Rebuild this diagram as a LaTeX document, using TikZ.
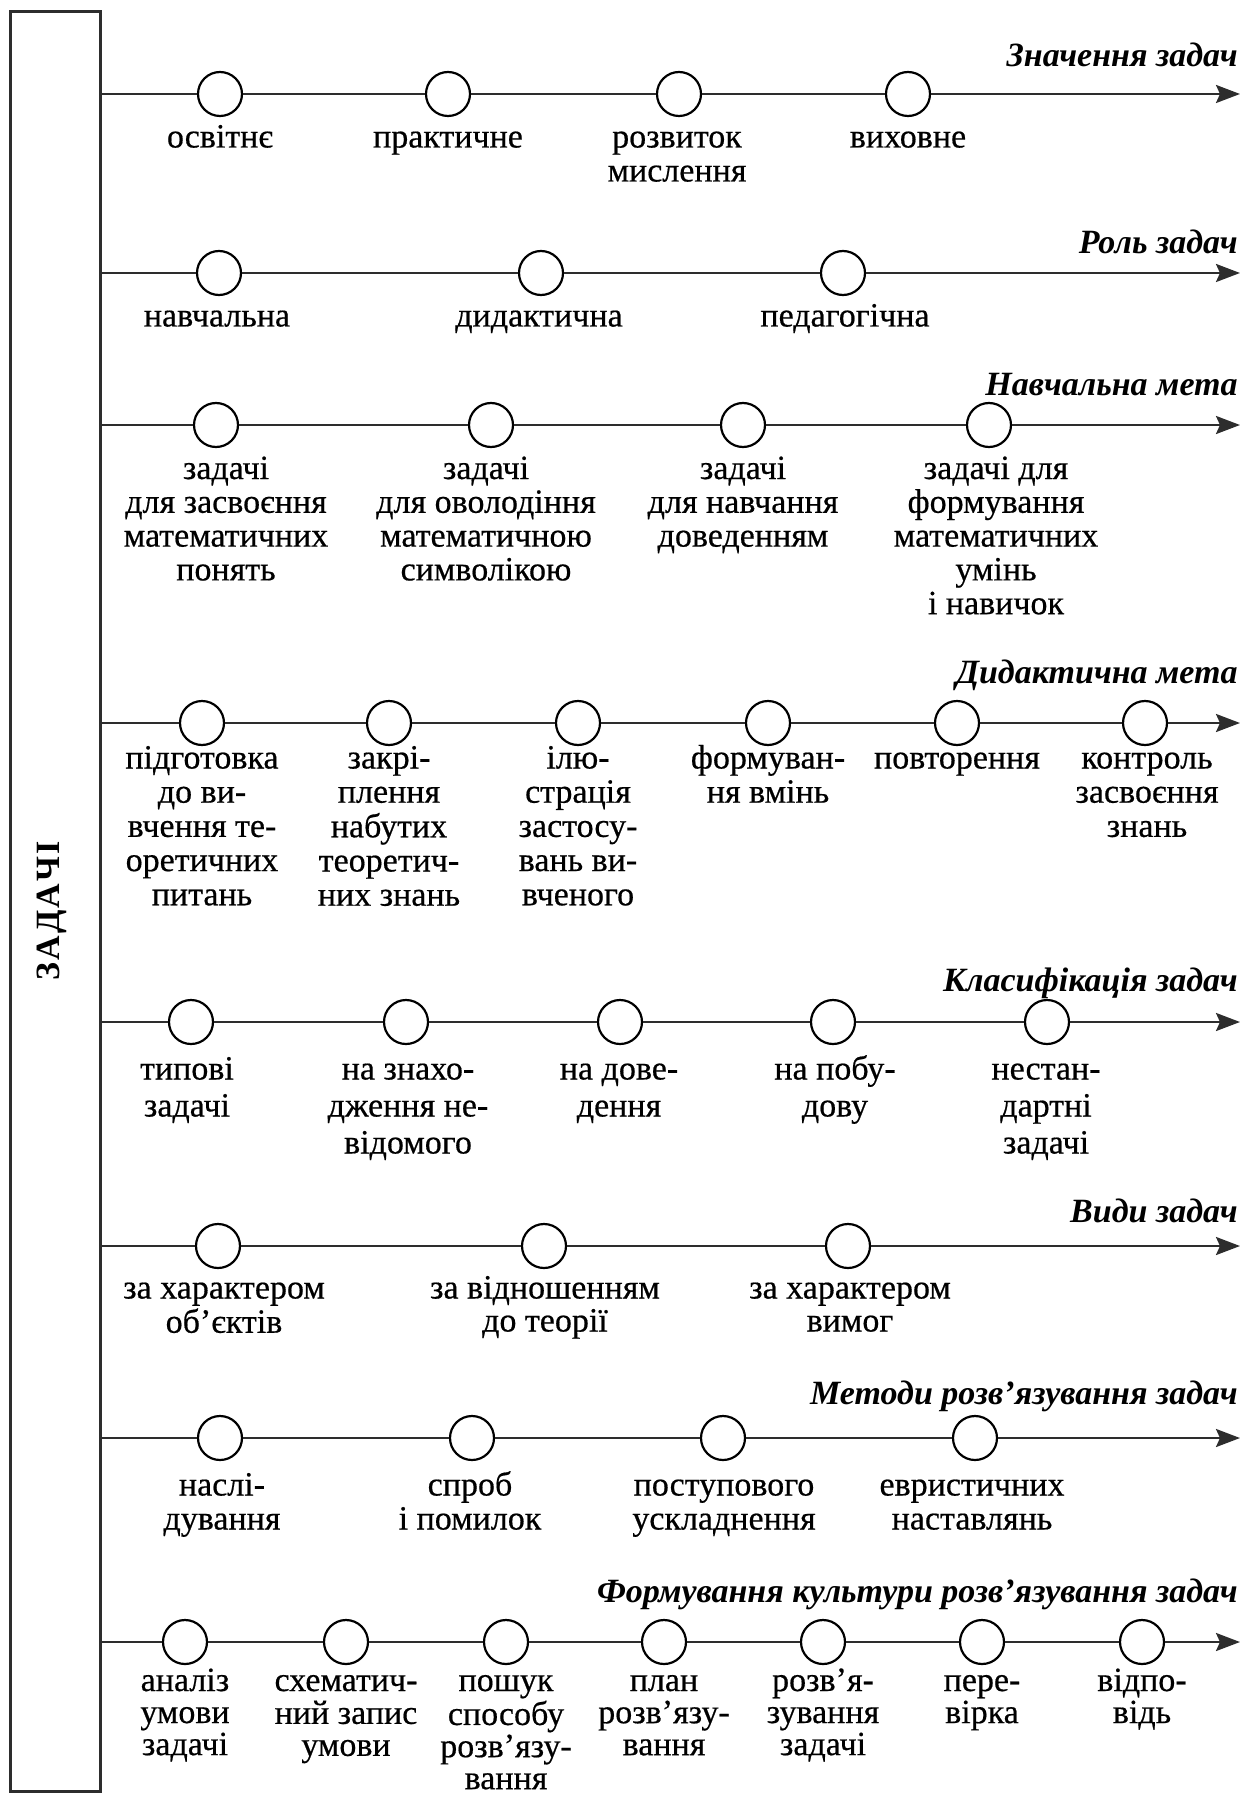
\documentclass[tikz,border=0pt]{standalone}
\usepackage{fontspec}
\setmainfont{Liberation Serif}
\newfontfamily\labfont{Liberation Serif}[FakeBold=0.5]
\usetikzlibrary{arrows.meta}
\definecolor{linecol}{RGB}{45,45,45}
\newcommand\labtext[1]{\begin{tabular}[t]{@{}c@{}}#1\end{tabular}}
\tikzset{
  dot/.style={circle, draw=black, line width=1.1pt, fill=white, minimum size=22pt, inner sep=0pt},
  axis/.style={draw=linecol, line width=1.3pt, -{Stealth[length=12pt,width=9pt,inset=2pt]}},
  lbl/.style={anchor=base, inner sep=0pt, font=\labfont\fontsize{17}{#1}\selectfont},
  lbl/.default=17,
  head/.style={anchor=base east, inner sep=0pt, font=\fontsize{17}{19}\selectfont\bfseries\itshape},
  frame/.style={draw=linecol, line width=1.4pt, anchor=north west, minimum width=45pt, minimum height=890pt, inner sep=0pt}
}
\begin{document}
\begin{tikzpicture}[x=0.5pt,y=-0.5pt]
\useasboundingbox (0,0) rectangle (1243,1797);
\node[frame] (box) at (9,10) {};
\node[rotate=90, inner sep=0pt, font=\fontsize{17}{20}\selectfont\bfseries] (title) at (52,911) {З\kern1pt А\kern1pt Д\kern1pt А\kern1pt Ч\kern1pt І};

% ---------- Row 1 ----------
\coordinate (s1) at (99,94); \coordinate (e1) at (1240,94);
\node[dot] (a1) at (220,94) {};
\node[dot] (a2) at (448,94) {};
\node[dot] (a3) at (679,94) {};
\node[dot] (a4) at (908,94) {};
\draw[axis] (s1) -- (a1) -- (a2) -- (a3) -- (a4) -- (e1);
\node[head] (h1) at (1238,66.5) {Значення задач};
\node[lbl] (la1) at (220,147.5) {\labtext{освітнє}};
\node[lbl] (la2) at (448,147.5) {\labtext{практичне}};
\node[lbl] (la3) at (677,147.5) {\labtext{розвиток\\мислення}};
\node[lbl] (la4) at (908,147.5) {\labtext{виховне}};

% ---------- Row 2 ----------
\coordinate (s2) at (99,273); \coordinate (e2) at (1240,273);
\node[dot] (b1) at (219,273) {};
\node[dot] (b2) at (541,273) {};
\node[dot] (b3) at (843,273) {};
\draw[axis] (s2) -- (b1) -- (b2) -- (b3) -- (e2);
\node[head] (h2) at (1238,254) {Роль задач};
\node[lbl] (lb1) at (217,326.5) {\labtext{навчальна}};
\node[lbl] (lb2) at (539,326.5) {\labtext{дидактична}};
\node[lbl] (lb3) at (845,326.5) {\labtext{педагогічна}};

% ---------- Row 3 ----------
\coordinate (s3) at (99,425); \coordinate (e3) at (1240,425);
\node[dot] (c1) at (216,425) {};
\node[dot] (c2) at (491,425) {};
\node[dot] (c3) at (743,425) {};
\node[dot] (c4) at (989,425) {};
\draw[axis] (s3) -- (c1) -- (c2) -- (c3) -- (c4) -- (e3);
\node[head] (h3) at (1238,395.5) {Навчальна мета};
\node[lbl=16.9] (lc1) at (226,479) {\labtext{задачі\\для засвоєння\\математичних\\понять}};
\node[lbl=16.9] (lc2) at (486,479) {\labtext{задачі\\для оволодіння\\математичною\\символікою}};
\node[lbl=16.9] (lc3) at (743,479) {\labtext{задачі\\для навчання\\доведенням}};
\node[lbl=16.9] (lc4) at (996,479) {\labtext{задачі для\\формування\\математичних\\умінь\\і навичок}};

% ---------- Row 4 ----------
\coordinate (s4) at (99,723); \coordinate (e4) at (1240,723);
\node[dot] (d1) at (202,723) {};
\node[dot] (d2) at (389,723) {};
\node[dot] (d3) at (578,723) {};
\node[dot] (d4) at (768,723) {};
\node[dot] (d5) at (957,723) {};
\node[dot] (d6) at (1145,723) {};
\draw[axis] (s4) -- (d1) -- (d2) -- (d3) -- (d4) -- (d5) -- (d6) -- (e4);
\node[head] (h4) at (1238,683.5) {Дидактична мета};
\node[lbl=17.1] (ld1) at (202,768.5) {\labtext{підготовка\\до ви-\\вчення те-\\оретичних\\питань}};
\node[lbl=17.1] (ld2) at (389,768.5) {\labtext{закрі-\\плення\\набутих\\теоретич-\\них знань}};
\node[lbl=17.1] (ld3) at (578,768.5) {\labtext{ілю-\\страція\\застосу-\\вань ви-\\вченого}};
\node[lbl=17.1] (ld4) at (768,768.5) {\labtext{формуван-\\ня вмінь}};
\node[lbl=17.1] (ld5) at (957,768.5) {\labtext{повторення}};
\node[lbl=17.1] (ld6) at (1147,768.5) {\labtext{контроль\\засвоєння\\знань}};

% ---------- Row 5 ----------
\coordinate (s5) at (99,1022); \coordinate (e5) at (1240,1022);
\node[dot] (f1) at (191,1022) {};
\node[dot] (f2) at (406,1022) {};
\node[dot] (f3) at (620,1022) {};
\node[dot] (f4) at (833,1022) {};
\node[dot] (f5) at (1047,1022) {};
\draw[axis] (s5) -- (f1) -- (f2) -- (f3) -- (f4) -- (f5) -- (e5);
\node[head] (h5) at (1238,991) {Класифікація задач};
\node[lbl=18.5] (lf1) at (187,1079.5) {\labtext{типові\\задачі}};
\node[lbl=18.5] (lf2) at (408,1079.5) {\labtext{на знахо-\\дження не-\\відомого}};
\node[lbl=18.5] (lf3) at (619,1079.5) {\labtext{на дове-\\дення}};
\node[lbl=18.5] (lf4) at (835,1079.5) {\labtext{на побу-\\дову}};
\node[lbl=18.5] (lf5) at (1046,1079.5) {\labtext{нестан-\\дартні\\задачі}};

% ---------- Row 6 ----------
\coordinate (s6) at (99,1246); \coordinate (e6) at (1240,1246);
\node[dot] (g1) at (218,1246) {};
\node[dot] (g2) at (544,1246) {};
\node[dot] (g3) at (848,1246) {};
\draw[axis] (s6) -- (g1) -- (g2) -- (g3) -- (e6);
\node[head] (h6) at (1238,1222.5) {Види задач};
\node[lbl=16.5] (lg1) at (224,1298.5) {\labtext{за характером\\об’єктів}};
\node[lbl=16.5] (lg2) at (545,1298.5) {\labtext{за відношенням\\до теорії}};
\node[lbl=16.5] (lg3) at (850,1298.5) {\labtext{за характером\\вимог}};

% ---------- Row 7 ----------
\coordinate (s7) at (99,1438); \coordinate (e7) at (1240,1438);
\node[dot] (k1) at (220,1438) {};
\node[dot] (k2) at (472,1438) {};
\node[dot] (k3) at (723,1438) {};
\node[dot] (k4) at (975,1438) {};
\draw[axis] (s7) -- (k1) -- (k2) -- (k3) -- (k4) -- (e7);
\node[head] (h7) at (1238,1404.5) {Методи розв’язування задач};
\node[lbl] (lk1) at (222,1495.5) {\labtext{наслі-\\дування}};
\node[lbl] (lk2) at (470,1495.5) {\labtext{спроб\\і помилок}};
\node[lbl] (lk3) at (724,1495.5) {\labtext{поступового\\ускладнення}};
\node[lbl] (lk4) at (972,1495.5) {\labtext{евристичних\\наставлянь}};

% ---------- Row 8 ----------
\coordinate (s8) at (99,1642); \coordinate (e8) at (1240,1642);
\node[dot] (m1) at (185,1642) {};
\node[dot] (m2) at (346,1642) {};
\node[dot] (m3) at (506,1642) {};
\node[dot] (m4) at (664,1642) {};
\node[dot] (m5) at (823,1642) {};
\node[dot] (m6) at (982,1642) {};
\node[dot] (m7) at (1142,1642) {};
\draw[axis] (s8) -- (m1) -- (m2) -- (m3) -- (m4) -- (m5) -- (m6) -- (m7) -- (e8);
\node[head] (h8) at (1238,1602) {Формування культури розв’язування задач};
\node[lbl=16] (lm1) at (185,1691) {\labtext{аналіз\\умови\\задачі}};
\node[lbl=16] (lm2) at (346,1691) {\labtext{схематич-\\ний запис\\умови}};
\node[lbl=16] (lm3) at (506,1691) {\labtext{пошук\\способу\\розв’язу-\\вання}};
\node[lbl=16] (lm4) at (664,1691) {\labtext{план\\розв’язу-\\вання}};
\node[lbl=16] (lm5) at (823,1691) {\labtext{розв’я-\\зування\\задачі}};
\node[lbl=16] (lm6) at (982,1691) {\labtext{пере-\\вірка}};
\node[lbl=16] (lm7) at (1142,1691) {\labtext{відпо-\\відь}};
\end{tikzpicture}
\end{document}
